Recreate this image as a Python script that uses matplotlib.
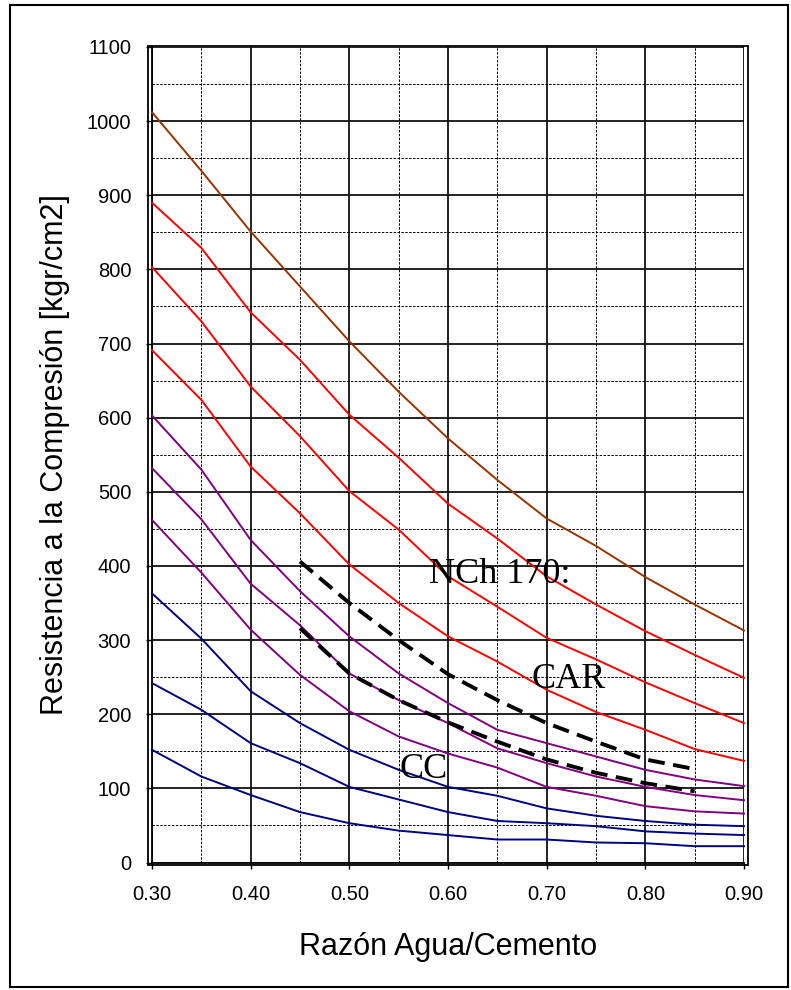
import matplotlib.pyplot as plt
from matplotlib.patches import Rectangle
from matplotlib.ticker import MultipleLocator

# water/cement ratio
x = [0.30, 0.35, 0.40, 0.45, 0.50, 0.55, 0.60, 0.65, 0.70, 0.75, 0.80, 0.85, 0.90]

brown = [1012, 933, 851, 777, 703, 635, 572, 516, 464, 427, 385, 348, 313]
red1 = [890, 829, 742, 678, 604, 546, 484, 437, 386, 348, 312, 280, 249]
red2 = [803, 730, 642, 575, 501, 449, 386, 345, 303, 274, 243, 215, 188]
red3 = [691, 624, 534, 471, 402, 350, 305, 271, 233, 203, 179, 153, 137]
purple1 = [603, 530, 435, 366, 305, 255, 215, 179, 161, 143, 125, 112, 103]
purple2 = [532, 463, 376, 320, 255, 219, 188, 154, 134, 116, 102, 91, 84]
purple3 = [462, 391, 314, 253, 204, 170, 147, 128, 102, 90, 76, 69, 66]
blue1 = [363, 302, 231, 188, 152, 125, 102, 90, 73, 63, 56, 51, 49]
blue2 = [242, 206, 161, 134, 102, 85, 68, 56, 53, 49, 42, 39, 37]
blue3 = [152, 116, 91, 68, 53, 43, 37, 31, 31, 27, 26, 22, 22]

# NCh 170 limits
x_nch = [0.45, 0.50, 0.55, 0.60, 0.65, 0.70, 0.75, 0.80, 0.85]
nch_car = [406, 350, 300, 254, 219, 188, 163, 139, 126]
nch_cc = [316, 255, 219, 189, 163, 139, 121, 107, 96]

x_ticks = [0.30, 0.40, 0.50, 0.60, 0.70, 0.80, 0.90]
x_ticklabels = ['0.30', '0.40', '0.50', '0.60', '0.70', '0.80', '0.90']

plt.rcParams['font.family'] = ['Liberation Sans', 'DejaVu Sans']

fig = plt.figure(figsize=(7.91, 9.90), dpi=100)
ax = fig.add_axes([152 / 791, (990 - 862.5) / 990, 592 / 791, 815.5 / 990])

series = [(brown, '#993300'), (red1, '#ff0000'), (red2, '#ff0000'), (red3, '#ff0000'),
          (purple1, '#800080'), (purple2, '#800080'), (purple3, '#800080'),
          (blue1, '#000080'), (blue2, '#000080'), (blue3, '#000080')]
for ys, c in series:
    ax.plot(x, ys, color=c, lw=1.4, zorder=3, clip_on=False)

for ys in (nch_car, nch_cc):
    ax.plot(x_nch, ys, color='black', lw=2.8, linestyle=(0, (4.3, 2.2)),
            dash_capstyle='butt', zorder=4)

ax.set_xlim(0.30, 0.90)
ax.set_ylim(0, 1100)
ax.set_xticks(x_ticks)
ax.set_xticklabels(x_ticklabels)
ax.xaxis.set_minor_locator(MultipleLocator(0.05))
ax.yaxis.set_major_locator(MultipleLocator(100))
ax.yaxis.set_minor_locator(MultipleLocator(50))

ax.grid(which='major', color='#111111', lw=1.3, linestyle='-')
ax.grid(which='minor', color='black', lw=0.7, linestyle=(0, (2.5, 1.5)))
ax.set_axisbelow(True)

ax.tick_params(which='major', direction='out', length=4, width=1.0, labelsize=14.5, color='black')
ax.tick_params(axis='y', which='major', pad=11)
ax.tick_params(axis='x', which='major', pad=12)
ax.tick_params(which='minor', length=0)

for side in ('top', 'right'):
    ax.spines[side].set_visible(False)
for side in ('left', 'bottom'):
    ax.spines[side].set_linewidth(1.3)

# plot area border
fig.patches.append(Rectangle((148 / 791, (990 - 865) / 990), 600 / 791, 819.5 / 990,
                             transform=fig.transFigure, fill=False, lw=1.3, ec='black'))
# outer chart border
fig.patches.append(Rectangle((10 / 791, 3 / 990), 778 / 791, 982 / 990,
                             transform=fig.transFigure, fill=False, lw=1.5, ec='black'))

ax.set_xlabel('Razón Agua/Cemento', fontsize=22)
ax.xaxis.label.set_va('baseline')
ax.xaxis.set_label_coords(0.5, -0.113)
ax.set_ylabel('Resistencia a la Compresión [kgr/cm2]', fontsize=22)
ax.yaxis.label.set_va('center')
ax.yaxis.set_label_coords(-0.164, 0.50)

serif = ['Liberation Serif', 'DejaVu Serif']
ax.text(0.581, 377, 'NCh 170:', family=serif, fontsize=26, va='baseline', zorder=5)
ax.text(0.685, 235, 'CAR', family=serif, fontsize=26, va='baseline', zorder=5)
ax.text(0.5505, 114, 'CC', family=serif, fontsize=26, va='baseline', zorder=5)

fig.savefig('out.png', dpi=100)
